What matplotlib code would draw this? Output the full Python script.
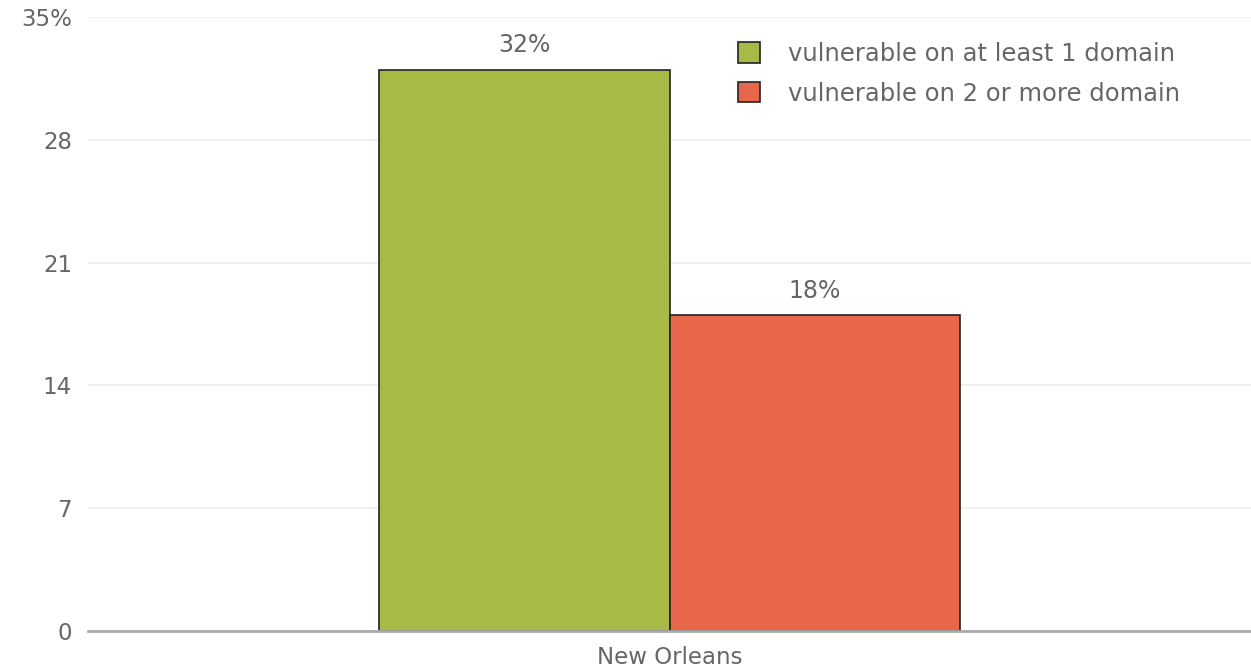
import matplotlib.pyplot as plt
from matplotlib.patches import Patch

# data
category = "New Orleans"
series_names = ["vulnerable on at least 1 domain", "vulnerable on 2 or more domain"]
values = [32, 18]
colors = ["#a8b946", "#e8664a"]
y_ticks = [0, 7, 14, 21, 28, 35]
y_tick_labels = ["0", "7", "14", "21", "28", "35%"]

text_color = "#666666"
plt.rcParams["font.family"] = "DejaVu Sans"

fig = plt.figure(figsize=(12.51, 6.71), dpi=100)
ax = fig.add_axes([88 / 1251, 40 / 671, 1 - 88 / 1251, 614 / 671])

width = 0.5
offsets = [-width / 2, width / 2]
for name, val, col, off in zip(series_names, values, colors, offsets):
    ax.bar(off, val, width=width, color=col, edgecolor="#222222", linewidth=1.2, zorder=3)
    ax.annotate(f"{val}%", (off, val), xytext=(0, 9), textcoords="offset points",
                ha="center", va="bottom", fontsize=17, color=text_color)

ax.set_xlim(-1, 1)
ax.set_ylim(0, 35)
ax.set_yticks(y_ticks)
ax.set_yticklabels(y_tick_labels)
ax.set_xticks([0])
ax.set_xticklabels([category])
ax.tick_params(axis="both", length=0, labelsize=16.5, colors=text_color)
ax.tick_params(axis="y", pad=11.5)
ax.tick_params(axis="x", pad=11)

ax.grid(axis="y", color="#eeeeee", linewidth=1.2, zorder=0)
for side in ["top", "right", "left"]:
    ax.spines[side].set_visible(False)
ax.spines["bottom"].set_color("#aaaaaa")
ax.spines["bottom"].set_linewidth(2)
ax.spines["bottom"].set_zorder(4)

handles = [Patch(facecolor=c, edgecolor="#222222", linewidth=1.2) for c in colors]
leg = fig.legend(handles, series_names, loc="upper left", bbox_to_anchor=(716 / 1251, 1 - 20 / 671),
                 frameon=False, fontsize=17.5, handlelength=0.9, handleheight=0.9,
                 handletextpad=1.15, labelspacing=0.65, labelcolor=text_color)

fig.savefig("out.png", dpi=100)
